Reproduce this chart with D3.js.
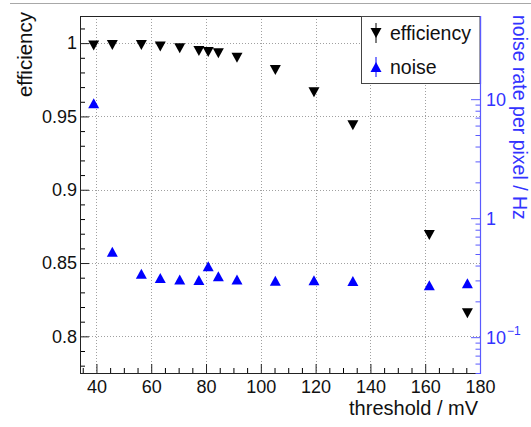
<!DOCTYPE html>
<html>
<head>
<meta charset="utf-8">
<script src="https://cdn.jsdelivr.net/npm/d3@7"></script>
<style>
  html, body { margin: 0; padding: 0; background: #fff; }
  svg { display: block; font-family: "Liberation Sans", Arial, Helvetica, sans-serif; }
</style>
</head>
<body>
<svg id="chart" width="531" height="427"></svg>
<script>
// Threshold scan: detection efficiency (left axis) and noise rate (right, log axis)
const thresholds = [39, 45.8, 56.4, 63.3, 70.4, 77.4, 80.8, 84.5, 91.3, 105.3, 119.4, 133.6, 161.5, 175.4];
const efficiency = [0.9983, 0.9987, 0.9987, 0.9977, 0.9965, 0.9947, 0.994, 0.9931, 0.9901, 0.9817, 0.9665, 0.944, 0.8691, 0.8157];
const noiseRate  = [9.23, 0.522, 0.341, 0.314, 0.305, 0.303, 0.395, 0.325, 0.305, 0.298, 0.301, 0.296, 0.273, 0.284];

const xTicks = [40, 60, 80, 100, 120, 140, 160, 180];
const effTicks = [0.8, 0.85, 0.9, 0.95, 1];
const effTickLabels = ["0.8", "0.85", "0.9", "0.95", "1"];
const noiseTicks = [0.1, 1, 10];
const noiseTickLabels = [["10", "\u22121"], ["1", null], ["10", null]];

const xTitle = "threshold / mV";
const effTitle = "efficiency";
const noiseTitle = "noise rate per pixel / Hz";
const legendLabels = ["efficiency", "noise"];

const svg = d3.select("#chart");
const frame = { left: 80, right: 480, top: 16, bottom: 373 };
const BLUE = "#0000ff";
const AXIS_BLUE = "#5a5aff";
const TEXT_BLUE = "#3333ff";

const x = d3.scaleLinear().domain([34, 180]).range([frame.left, frame.right]);
const yEff = d3.scaleLinear().domain([0.775, 1.0185]).range([frame.bottom, frame.top]);
const yNoise = d3.scaleLog().domain([0.05, 50]).range([frame.bottom, frame.top]);

// thin rule across the top of the page
svg.append("line")
  .attr("x1", 10).attr("x2", 531).attr("y1", 3.5).attr("y2", 3.5)
  .attr("stroke", "#a8a8a8").attr("stroke-width", 1);

// dotted grid at the major ticks
const grid = svg.append("g").attr("stroke", "#a0a0a0").attr("stroke-width", 1)
  .attr("stroke-dasharray", "1,2");
grid.selectAll("line.gx").data(xTicks).join("line")
  .attr("x1", d => Math.round(x(d)) + 0.5).attr("x2", d => Math.round(x(d)) + 0.5)
  .attr("y1", frame.top).attr("y2", frame.bottom);
grid.selectAll("line.gy").data(effTicks).join("line")
  .attr("y1", d => Math.round(yEff(d)) + 0.5).attr("y2", d => Math.round(yEff(d)) + 0.5)
  .attr("x1", frame.left).attr("x2", frame.right);

// bottom axis: major + minor ticks pointing inward
const fontTick = 18;
const xAxis = svg.append("g").attr("transform", `translate(0,${frame.bottom})`)
  .call(d3.axisBottom(x).tickValues(xTicks).tickSize(-9).tickPadding(7).tickFormat(d3.format("d")));
const xMinor = d3.range(35, 181, 5).filter(v => v % 20 !== 0);
svg.append("g").attr("transform", `translate(0,${frame.bottom})`)
  .call(d3.axisBottom(x).tickValues(xMinor).tickSize(-5).tickFormat(""));

// left axis
const yAxis = svg.append("g").attr("transform", `translate(${frame.left},0)`)
  .call(d3.axisLeft(yEff).tickValues(effTicks).tickSize(-9).tickPadding(3)
    .tickFormat((d, i) => effTickLabels[i]));
const effMinor = d3.range(78, 102).map(v => v / 100).filter(v => Math.round(v * 100) % 5 !== 0);
svg.append("g").attr("transform", `translate(${frame.left},0)`)
  .call(d3.axisLeft(yEff).tickValues(effMinor).tickSize(-5).tickFormat(""));

[xAxis, yAxis].forEach(g => {
  g.select(".domain").remove();
  g.selectAll("text").attr("font-size", fontTick).attr("fill", "#111")
    .attr("font-family", "Liberation Sans, Arial, sans-serif");
  g.selectAll("line").attr("stroke", "#222");
});
svg.selectAll("g").selectAll(".domain").remove();

// frame
svg.append("rect")
  .attr("x", frame.left + 0.5).attr("y", frame.top + 0.5)
  .attr("width", frame.right - frame.left).attr("height", frame.bottom - frame.top)
  .attr("fill", "none").attr("stroke", "#222").attr("stroke-width", 1);

// right log axis in blue
const rAxis = svg.append("g").attr("transform", `translate(${frame.right},0)`)
  .call(d3.axisRight(yNoise).tickValues(noiseTicks).tickSize(-9).tickPadding(6).tickFormat(""));
const noiseMinor = [];
[0.01, 0.1, 1, 10].forEach(dec => {
  for (let k = 2; k <= 9; k++) {
    const v = dec * k;
    if (v >= 0.05 && v <= 50) noiseMinor.push(v);
  }
});
svg.append("g").attr("transform", `translate(${frame.right},0)`)
  .call(d3.axisRight(yNoise).tickValues(noiseMinor).tickSize(-4.5).tickFormat(""))
  .call(g => { g.select(".domain").remove(); g.selectAll("line").attr("stroke", AXIS_BLUE); });
rAxis.select(".domain").remove();
rAxis.selectAll("line").attr("stroke", AXIS_BLUE);
svg.append("line")
  .attr("x1", frame.right + 0.5).attr("x2", frame.right + 0.5)
  .attr("y1", frame.top).attr("y2", frame.bottom + 1)
  .attr("stroke", AXIS_BLUE).attr("stroke-width", 1.2);

const rLabels = svg.append("g").attr("fill", TEXT_BLUE).attr("font-size", fontTick);
noiseTicks.forEach((v, i) => {
  const [base, sup] = noiseTickLabels[i];
  const t = rLabels.append("text")
    .attr("x", frame.right + 6).attr("y", yNoise(v)).attr("dy", "0.36em");
  t.append("tspan").text(base);
  if (sup) {
    t.append("tspan").attr("font-size", 12).attr("dy", "-0.75em").attr("dx", 1).text(sup);
  }
});

// axis titles
svg.append("text")
  .attr("transform", `translate(${frame.right - 2},415)`)
  .attr("text-anchor", "end").attr("font-size", 20).attr("fill", "#111")
  .text(xTitle);
svg.append("text")
  .attr("transform", "translate(32,12) rotate(-90)")
  .attr("text-anchor", "end").attr("font-size", 20.5).attr("fill", "#111")
  .text(effTitle);
svg.append("text")
  .attr("transform", "translate(513,15) rotate(90)")
  .attr("text-anchor", "start").attr("font-size", 19.5).attr("fill", TEXT_BLUE)
  .text(noiseTitle);

// triangle markers with the box centred on the data point
const TW = 11, TH = 10;
const upTri = `M${-TW / 2},${TH / 2}L${TW / 2},${TH / 2}L0,${-TH / 2}Z`;
const downTri = `M${-TW / 2},${-TH / 2}L${TW / 2},${-TH / 2}L0,${TH / 2}Z`;

svg.append("g").selectAll("path").data(thresholds).join("path")
  .attr("d", downTri).attr("fill", "#000")
  .attr("transform", (d, i) => `translate(${x(d)},${yEff(efficiency[i])})`);

svg.append("g").selectAll("path").data(thresholds).join("path")
  .attr("d", upTri).attr("fill", BLUE)
  .attr("transform", (d, i) => `translate(${x(d)},${yNoise(noiseRate[i])})`);

// legend
const lg = svg.append("g");
lg.append("rect")
  .attr("x", 361.5).attr("y", frame.top + 0.5).attr("width", frame.right - 361.5).attr("height", 67)
  .attr("fill", "#fff").attr("stroke", "#444").attr("stroke-width", 1);
const legendItems = [
  { label: legendLabels[0], shape: downTri, color: "#000", y: 33 },
  { label: legendLabels[1], shape: upTri, color: BLUE, y: 67 }
];
legendItems.forEach(it => {
  lg.append("line").attr("x1", 376).attr("x2", 376).attr("y1", it.y - 10).attr("y2", it.y + 10)
    .attr("stroke", it.color).attr("stroke-width", 1);
  lg.append("path").attr("d", it.shape).attr("fill", it.color)
    .attr("transform", `translate(376,${it.y})`);
  lg.append("text").attr("x", 390).attr("y", it.y + 7).attr("font-size", 19.5).attr("fill", "#111")
    .text(it.label);
});
// blue axis line on top of the legend box edge
svg.append("line")
  .attr("x1", frame.right + 0.5).attr("x2", frame.right + 0.5)
  .attr("y1", frame.top).attr("y2", frame.top + 68)
  .attr("stroke", AXIS_BLUE).attr("stroke-width", 1.2);
</script>
</body>
</html>
